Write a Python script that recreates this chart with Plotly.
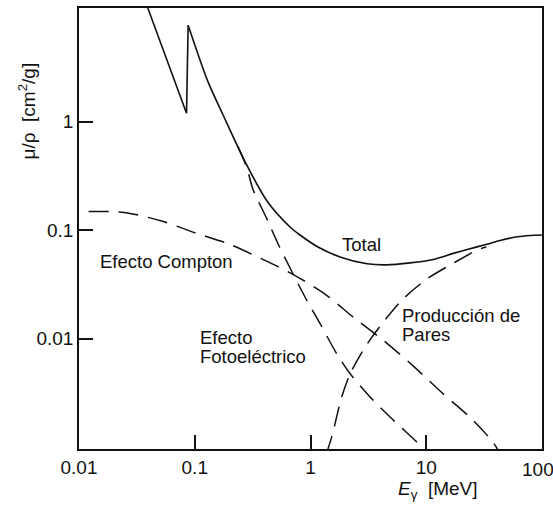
import plotly.graph_objects as go

# Energies (MeV) and mass attenuation coefficients (cm^2/g)
total_E = [0.0335, 0.0393, 0.0849, 0.0877, 0.130, 0.175, 0.271, 0.421, 0.665, 0.811,
           1.16, 1.80, 3.08, 4.56, 7.26, 11.5, 17.1, 22.6, 33.4, 43.5, 61.1, 79.3, 100.0]
total_mu = [17.3, 11.1, 1.19, 7.71, 2.33, 1.16, 0.430, 0.185, 0.1066, 0.090,
            0.0698, 0.0565, 0.0488, 0.0477, 0.0498, 0.0536, 0.0609, 0.0662, 0.0739, 0.0801,
            0.0866, 0.0891, 0.090]

compton_E = [0.0121, 0.01845, 0.0269, 0.0519, 0.102, 0.197, 0.380, 0.692, 1.335, 2.38,
             4.27, 7.74, 13.6, 24.8, 37.4, 42.8]
compton_mu = [0.148, 0.148, 0.143, 0.121, 0.0938, 0.0744, 0.0542, 0.0395, 0.0257, 0.0155,
              0.0096, 0.00557, 0.00318, 0.00181, 0.00112, 0.0009]

photo_E = [0.236, 0.283, 0.318, 0.421, 0.535, 0.933, 1.21, 1.685, 2.20, 3.27, 5.20, 8.85, 9.98]
photo_mu = [0.590, 0.371, 0.238, 0.126, 0.0713, 0.0223, 0.01373, 0.00724, 0.00474, 0.00289,
            0.00177, 0.00104, 0.0009]

pair_E = [1.36, 1.525, 1.86, 2.20, 2.96, 3.99, 6.22, 10.1, 17.2, 27.7, 33.0]
pair_mu = [0.000845, 0.00124, 0.00289, 0.00474, 0.00832, 0.01297, 0.0228, 0.0353, 0.0495,
           0.0656, 0.0698]

x_tickvals = [0.01, 0.1, 1, 10, 100]
x_ticktext = ["0.01", "0.1", "1", "10", "100"]
y_tickvals = [0.01, 0.1, 1]
y_ticktext = ["0.01", "0.1", "1"]

FONT = "Liberation Sans, Arial, sans-serif"
INK = "#111111"

fig = go.Figure()
# Total: straight part up to and including the K edge, then smooth
fig.add_trace(go.Scatter(x=total_E[:4], y=total_mu[:4], mode="lines",
                         line=dict(color=INK, width=1.6), showlegend=False, hoverinfo="skip"))
fig.add_trace(go.Scatter(x=total_E[3:], y=total_mu[3:], mode="lines",
                         line=dict(color=INK, width=1.6, shape="spline", smoothing=0.8),
                         showlegend=False, hoverinfo="skip"))
for xs, ys in [(compton_E, compton_mu), (photo_E, photo_mu), (pair_E, pair_mu)]:
    fig.add_trace(go.Scatter(x=xs, y=ys, mode="lines",
                             line=dict(color=INK, width=1.5, dash="20px,10px", shape="spline", smoothing=0.8),
                             showlegend=False, hoverinfo="skip"))

L, R, T, B = 79, 11, 6, 68
W, H = 553, 517
pw, ph = W - L - R, H - T - B

def px(xp):
    return (xp - L) / pw

def py(yp):
    return (H - B - yp) / ph

def ann(text, xp, yp, xanchor="left", size=18.5, angle=0):
    fig.add_annotation(text=text, x=px(xp), y=py(yp), xref="paper", yref="paper",
                       xanchor=xanchor, yanchor="middle", showarrow=False, textangle=angle,
                       font=dict(family=FONT, size=size, color=INK))

ann("Total", 361, 243.3, xanchor="center")
ann("Efecto Compton", 98, 261)
ann("Efecto", 198, 336.5)
ann("Fotoeléctrico", 198, 356.5)
ann("Producción de", 400, 314.5)
ann("Pares", 400, 334)
ann("<i>E</i><sub>γ</sub>\u00a0\u00a0[MeV]", 437.5, 490, xanchor="center", size=19)
ann("μ/ρ\u00a0\u00a0[cm<sup>2</sup>/g]", 27, 110, xanchor="center", size=19, angle=-90)
# last x tick label sits at the right edge of the frame; drawn inside the page
ann(x_ticktext[-1], 537.5, 469.5, xanchor="center", size=19)

axis_common = dict(showline=True, linecolor=INK, linewidth=1.5, mirror=True,
                   ticks="inside", ticklen=14, tickwidth=1.5, tickcolor=INK,
                   showgrid=False, zeroline=False,
                   tickfont=dict(family=FONT, size=19, color=INK))
fig.update_xaxes(type="log", range=[-2, 2], tickvals=x_tickvals,
                 ticktext=x_ticktext[:-1] + [""], **axis_common)
fig.update_yaxes(type="log", range=[-3.018, 1.046], tickvals=y_tickvals, ticktext=y_ticktext, **axis_common)

fig.update_layout(width=W, height=H, margin=dict(l=L, r=R, t=T, b=B),
                  paper_bgcolor="white", plot_bgcolor="white",
                  font=dict(family=FONT, color=INK))
fig.write_html("out.html", config={"displayModeBar": False},
               post_script="document.body.style.margin='0';")
